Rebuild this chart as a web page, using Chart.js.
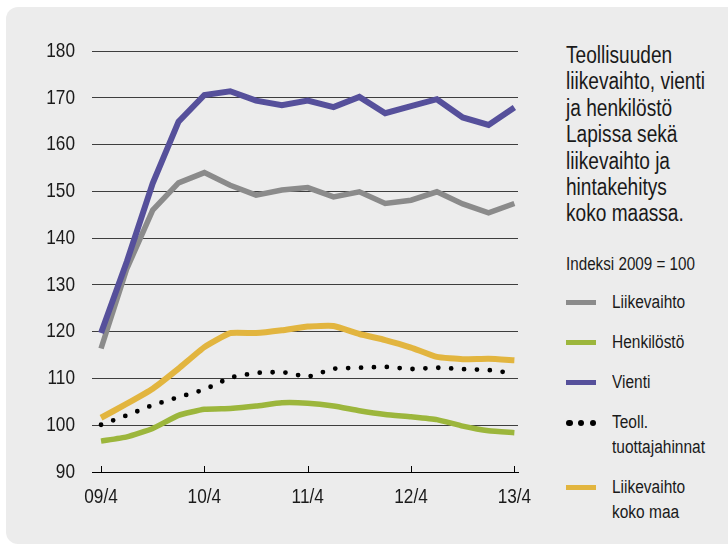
<!DOCTYPE html>
<html>
<head>
<meta charset="utf-8">
<script src="https://cdn.jsdelivr.net/npm/chart.js@4"></script>
<style>
  html, body { margin: 0; padding: 0; background: #fff; }
  body { width: 728px; height: 545px; position: relative; overflow: hidden;
         font-family: "Liberation Sans", Arial, sans-serif; color: #1a1a1a; }
  #panel { position: absolute; left: 6px; top: 7px; width: 740px; height: 537px;
           background: #ececec; border-radius: 12px; }
  #chart-wrap { position: absolute; left: 0; top: 0; width: 560px; height: 545px; }
  .cond { display: inline-block; white-space: nowrap; transform-origin: 0 0; }
  #title { position: absolute; left: 566px; top: 42px; font-size: 23px; line-height: 26.4px; }
  #title .cond { transform: scaleX(0.83); }
  #index-note { position: absolute; left: 566px; top: 254px; font-size: 18px; line-height: 20px; }
  #index-note .cond { transform: scaleX(0.845); }
  #legend { position: absolute; left: 566px; top: 290px; font-size: 18px; line-height: 25px; }
  #legend .cond { transform: scaleX(0.86); }
  .leg-row { position: relative; padding-left: 46px; margin-bottom: 15px; }
  .leg-swatch { position: absolute; left: 0; top: 10px; width: 30px; height: 5px; }
  .leg-dots { position: absolute; left: 0; top: 9.5px; width: 30px; height: 6.5px;
              display: flex; justify-content: space-between; }
  .leg-dots span { width: 6.5px; height: 6.5px; border-radius: 50%; background: #000; }
</style>
</head>
<body>
<div id="panel"></div>
<div id="chart-wrap"><canvas id="chart" width="560" height="545"></canvas></div>
<div id="title"><span class="cond">Teollisuuden<br>liikevaihto, vienti<br>ja henkilöstö<br>Lapissa sekä<br>liikevaihto ja<br>hintakehitys<br>koko maassa.</span></div>
<div id="index-note"><span class="cond">Indeksi 2009 = 100</span></div>
<div id="legend"></div>
<script>
"use strict";

// ── data ──────────────────────────────────────────────────────────────────────
const quarters = ["09/4", "10/1", "10/2", "10/3", "10/4", "11/1", "11/2", "11/3", "11/4",
                  "12/1", "12/2", "12/3", "12/4", "13/1", "13/2", "13/3", "13/4"];
const yearTicks = ["09/4", "10/4", "11/4", "12/4", "13/4"];
const yTicks = [90, 100, 110, 120, 130, 140, 150, 160, 170, 180];

const liikevaihto    = [116.4, 133.5, 146.0, 151.8, 154.0, 151.3, 149.2, 150.3, 150.8,
                        148.8, 149.9, 147.4, 148.1, 149.9, 147.3, 145.4, 147.4];
const henkilosto     = [96.6, 97.5, 99.3, 102.1, 103.4, 103.6, 104.1, 104.8, 104.7,
                        104.1, 103.1, 102.3, 101.8, 101.2, 99.8, 98.8, 98.4];
const vienti         = [119.7, 135.0, 151.7, 164.9, 170.6, 171.4, 169.4, 168.4, 169.4,
                        168.0, 170.2, 166.7, 168.2, 169.7, 165.8, 164.2, 167.9];
const tuottajahinnat = [100.1, 102.1, 104.3, 106.0, 107.6, 110.2, 111.2, 111.4, 110.3,
                        112.1, 112.3, 112.5, 112.0, 112.3, 112.0, 111.8, 111.1];
const kokoMaa        = [101.6, 104.6, 107.8, 112.1, 116.7, 119.7, 119.7, 120.3, 121.1,
                        121.2, 119.5, 118.2, 116.6, 114.6, 114.1, 114.2, 113.9];

const legendLabels = ["Liikevaihto", "Henkilöstö", "Vienti", "Teoll.<br>tuottajahinnat", "Liikevaihto<br>koko maa"];

const COLORS = {
  gray:   "#8b8b8b",
  green:  "#9cb63c",
  purple: "#56509b",
  black:  "#000000",
  yellow: "#e2b53f",
};

function toPoints(values) {
  return values.map((v, i) => ({ x: i, y: v }));
}

const FONT = "'Liberation Sans', Arial, sans-serif";
const SQUEEZE = 0.82;   // the original uses a condensed face

// ── upward tick marks on the x axis ──────────────────────────────────────────
const axisTicks = {
  id: "axisTicks",
  afterDraw(chart) {
    const { ctx, scales: { x }, chartArea } = chart;
    ctx.save();
    ctx.strokeStyle = "#000";
    ctx.lineWidth = 1;
    x.ticks.forEach(t => {
      const px = Math.round(x.getPixelForValue(t.value)) + 0.5;
      ctx.beginPath();
      ctx.moveTo(px, chartArea.bottom);
      ctx.lineTo(px, chartArea.bottom - 6);
      ctx.stroke();
    });
    ctx.restore();
  },
};

// ── narrow the tick labels horizontally, keeping their anchor points ─────────
const condenseLabels = {
  id: "condenseLabels",
  afterLayout(chart) {
    [chart.scales.x, chart.scales.y].forEach(scale => {
      if (scale._condensed) return;
      scale._condensed = true;
      const getItems  = scale.getLabelItems.bind(scale);
      const drawLbls  = scale.drawLabels.bind(scale);
      const labelArea = scale._computeLabelArea.bind(scale);
      scale.getLabelItems = area => getItems(area).map(it => Object.assign({}, it, {
        options: Object.assign({}, it.options, {
          translation: [it.options.translation[0] / SQUEEZE, it.options.translation[1]],
        }),
      }));
      scale._computeLabelArea = () => {
        const a = labelArea();
        return a && { left: a.left / SQUEEZE, right: a.right / SQUEEZE, top: a.top, bottom: a.bottom };
      };
      scale.drawLabels = area => {
        scale.ctx.save();
        scale.ctx.scale(SQUEEZE, 1);
        drawLbls(area);
        scale.ctx.restore();
      };
    });
  },
};

const datasets = [
  { label: "Liikevaihto", data: toPoints(liikevaihto), borderColor: COLORS.gray,
    borderWidth: 5.5, order: 4 },
  { label: "Henkilöstö", data: toPoints(henkilosto), borderColor: COLORS.green,
    borderWidth: 5.5, tension: 0.15, order: 2 },
  { label: "Vienti", data: toPoints(vienti), borderColor: COLORS.purple,
    borderWidth: 6, order: 1 },
  { label: "Teoll. tuottajahinnat", data: toPoints(tuottajahinnat), borderColor: COLORS.black,
    borderWidth: 4.8, borderDash: [0, 12.9], borderCapStyle: "round", order: 5 },
  { label: "Liikevaihto koko maa", data: toPoints(kokoMaa), borderColor: COLORS.yellow,
    borderWidth: 6, tension: 0.15, order: 3 },
];

const chart = new Chart(document.getElementById("chart"), {
  type: "line",
  data: { datasets: datasets.map(d => Object.assign({ pointRadius: 0, fill: false }, d)) },
  plugins: [axisTicks, condenseLabels],
  options: {
    responsive: false,
    animation: false,
    layout: { padding: { left: 0, top: 51, right: 42, bottom: 0 } },
    plugins: { legend: { display: false }, tooltip: { enabled: false } },
    scales: {
      x: {
        type: "linear",
        min: -0.35,
        max: 16.14,
        afterBuildTicks: scale => {
          scale.ticks = yearTicks.map(l => ({ value: quarters.indexOf(l) }));
        },
        afterFit: scale => { scale.height = 545 - 472; },
        grid: { display: false, drawTicks: false },
        border: { display: true, color: "#000", width: 1 },
        ticks: {
          padding: 13,
          color: "#1a1a1a",
          font: { family: FONT, size: 21 },
          callback: v => quarters[v],
          maxRotation: 0,
        },
      },
      y: {
        min: yTicks[0],
        max: yTicks[yTicks.length - 1],
        afterBuildTicks: scale => {
          scale.ticks = yTicks.map(v => ({ value: v }));
        },
        afterFit: scale => { scale.width = 92; },
        grid: { color: "#3e3e3e", lineWidth: 1, drawTicks: false },
        border: { display: false },
        ticks: {
          padding: 17,
          color: "#1a1a1a",
          font: { family: FONT, size: 21 },
        },
      },
    },
  },
});

// ── html legend built from the datasets ──────────────────────────────────────
const legendEl = document.getElementById("legend");
legendEl.innerHTML = chart.data.datasets.map((ds, i) => {
  const swatch = ds.borderDash
    ? `<div class="leg-dots"><span></span><span></span><span></span></div>`
    : `<div class="leg-swatch" style="background:${ds.borderColor}"></div>`;
  return `<div class="leg-row">${swatch}<span class="cond">${legendLabels[i]}</span></div>`;
}).join("");
</script>
</body>
</html>
